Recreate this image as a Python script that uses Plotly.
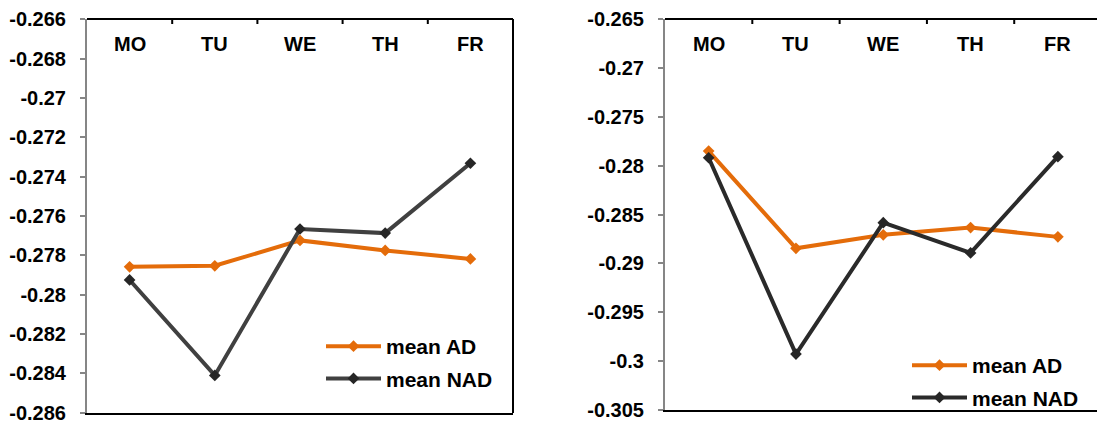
import plotly.graph_objects as go

# Weekday categories shared by both panels
days = ["MO", "TU", "WE", "TH", "FR"]

# Panel 1 series
left_ad = [-0.27858, -0.27853, -0.27724, -0.27775, -0.27818]
left_nad = [-0.27925, -0.28410, -0.27666, -0.27687, -0.27332]
left_ticks = [-0.266, -0.268, -0.270, -0.272, -0.274, -0.276, -0.278, -0.280, -0.282, -0.284, -0.286]
left_ticktext = ["-0.266", "-0.268", "-0.27", "-0.272", "-0.274", "-0.276", "-0.278", "-0.28", "-0.282", "-0.284", "-0.286"]

# Panel 2 series
right_ad = [-0.27851, -0.28846, -0.28708, -0.28634, -0.28729]
right_nad = [-0.27919, -0.29929, -0.28584, -0.28893, -0.27908]
right_ticks = [-0.265, -0.270, -0.275, -0.280, -0.285, -0.290, -0.295, -0.300, -0.305]
right_ticktext = ["-0.265", "-0.27", "-0.275", "-0.28", "-0.285", "-0.29", "-0.295", "-0.3", "-0.305"]

W, H = 1097, 423
FONT = "Liberation Sans, Arial, sans-serif"
ORANGE = "#E46C0A"
DARK_L = "#404040"
DARK_R = "#2a2a2a"
MARK_D = "#262626"

# Plot-area edges in pixels
L_LEFT, L_RIGHT, L_TOP, L_BOTTOM = 87, 513, 19, 413
R_LEFT, R_TOP, R_BOTTOM = 665, 19, 410

fig = go.Figure()

def add_pair(ad, nad, xa, ya, legend, dark):
    fig.add_trace(go.Scatter(
        x=days, y=ad, name="mean AD", mode="lines+markers",
        line=dict(color=ORANGE, width=4),
        marker=dict(symbol="diamond", size=9, color=ORANGE),
        xaxis=xa, yaxis=ya, legend=legend, legendgroup=legend + "ad"))
    fig.add_trace(go.Scatter(
        x=days, y=nad, name="mean NAD", mode="lines+markers",
        line=dict(color=dark, width=4),
        marker=dict(symbol="diamond", size=9, color=MARK_D),
        xaxis=xa, yaxis=ya, legend=legend, legendgroup=legend + "nad"))

add_pair(left_ad, left_nad, "x", "y", "legend", DARK_L)
add_pair(right_ad, right_nad, "x2", "y2", "legend2", DARK_R)

tickfont = dict(family=FONT, size=20, color="black", weight="bold")
legfont = dict(family=FONT, size=21, color="black", weight="bold")

# Category axis: black bottom edge; weekday names are placed along the top edge
xcommon = dict(
    type="category", categoryarray=days, side="bottom", showline=True,
    linecolor="black", linewidth=2, ticks="", showticklabels=False,
    showgrid=False, zeroline=False, fixedrange=True, automargin=False,
)
ycommon = dict(
    showline=True, linecolor="#868686", linewidth=2, ticks="outside", ticklen=5,
    tickwidth=2, tickcolor="#868686", showgrid=False, zeroline=False,
    tickfont=tickfont, ticklabelstandoff=10, ticklabeloverflow="allow",
    automargin=False, fixedrange=True,
)

def top_edge(xref, yref):
    return dict(type="line", xref=xref, yref=yref, x0=0, x1=1, y0=1, y1=1,
                line=dict(color="black", width=2), layer="above")

def right_edge(xref, yref):
    return dict(type="line", xref=xref, yref=yref, x0=1, x1=1, y0=0, y1=1,
                line=dict(color="black", width=2), layer="above")

shapes = [
    top_edge("x domain", "y domain"),
    right_edge("x domain", "y domain"),
    top_edge("x2 domain", "y2 domain"),
]

# Headless connector segment (annotation arrow) used for the top frame and its ticks
def segment(x, y, ax, ay, xref, yref, axref, ayref):
    return dict(x=x, y=y, ax=ax, ay=ay, xref=xref, yref=yref, axref=axref, ayref=ayref,
                text=" ", font=dict(size=1), borderpad=0, showarrow=True,
                arrowhead=0, arrowwidth=2, arrowcolor="black",
                standoff=0, startstandoff=0)

annotations = []
# top frame lines
annotations.append(segment(0, 1, 1, 1, "x domain", "y domain", "x domain", "y domain"))
annotations.append(segment(0, 1, 1, 1, "x2 domain", "y2 domain", "x2 domain", "y2 domain"))
# inward ticks at the category boundaries
for xref, yref in (("x", "y domain"), ("x2", "y2 domain")):
    for i in range(len(days) - 1):
        annotations.append(segment(i + 0.5, 1, 0, 6, xref, yref, "pixel", "pixel"))

# Weekday names just inside the top edge of each panel
for xref, yref in (("x", "y domain"), ("x2", "y2 domain")):
    for d in days:
        annotations.append(dict(x=d, y=1, xref=xref, yref=yref, text=d,
                                showarrow=False, yanchor="middle", yshift=-25,
                                font=tickfont))

fig.update_layout(
    template="none",
    width=W, height=H, margin=dict(l=0, r=0, t=0, b=0, pad=0, autoexpand=False),
    paper_bgcolor="white", plot_bgcolor="white",
    font=dict(family=FONT, color="black"),
    hovermode=False,
    xaxis=dict(domain=[L_LEFT / W, L_RIGHT / W], range=[-0.5, 4.5], anchor="y", **xcommon),
    yaxis=dict(domain=[1 - L_BOTTOM / H, 1 - L_TOP / H], range=[-0.28601, -0.26599],
               tickvals=left_ticks, ticktext=left_ticktext, anchor="x", **ycommon),
    xaxis2=dict(domain=[R_LEFT / W, 1.0], range=[-0.5, 4.448], anchor="y2", **xcommon),
    yaxis2=dict(domain=[1 - R_BOTTOM / H, 1 - R_TOP / H], range=[-0.30501, -0.26499],
                tickvals=right_ticks, ticktext=right_ticktext, anchor="x2", **ycommon),
    legend=dict(x=321 / W, y=1 - 326 / H, xanchor="left", yanchor="top",
                bgcolor="rgba(0,0,0,0)", itemwidth=55, tracegroupgap=2,
                borderwidth=0, font=legfont),
    legend2=dict(x=907 / W, y=1 - 345 / H, xanchor="left", yanchor="top",
                 bgcolor="rgba(0,0,0,0)", itemwidth=55, tracegroupgap=2,
                 borderwidth=0, font=legfont),
    shapes=shapes,
    annotations=annotations,
)

fig.write_html("out.html", config={"displayModeBar": False})
